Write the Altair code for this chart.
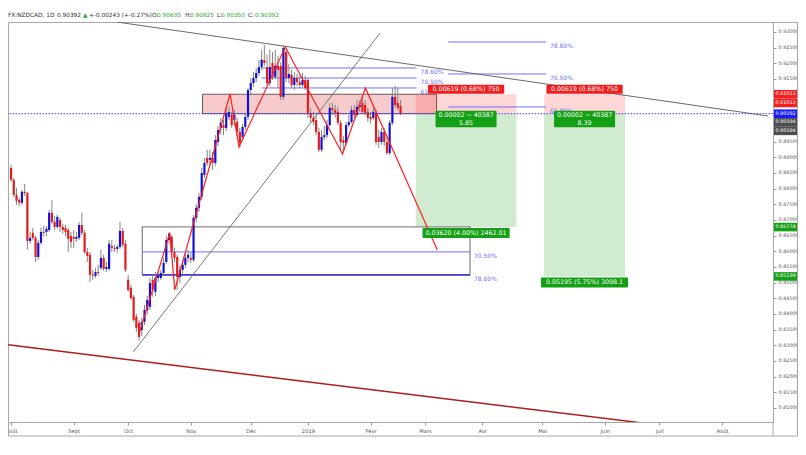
import altair as alt
import pandas as pd

# ---------------- data ----------------
# x axis: bar index (trading day) of the first session of each month, and its label
month_bar = [0, 23, 43, 66, 88, 109, 132, 152, 173, 195, 218, 238, 261]
month_name = ["Août", "Sept", "Oct", "Nov", "Déc", "2019", "Févr", "Mars", "Avr", "Mai", "Juin", "Juil", "Août"]
price_ticks = [0.810, 0.815, 0.820, 0.825, 0.830, 0.835, 0.840, 0.845, 0.850, 0.855, 0.860, 0.865,
               0.870, 0.875, 0.880, 0.885, 0.890, 0.895, 0.900, 0.905, 0.910, 0.915, 0.920, 0.925, 0.930]

opens = [.8866, .8828, .8780, .8764, .8755, .8790, .8786, .8633, .8659, .8643,
         .8582, .8627, .8662, .8662, .8668, .8723, .8694, .8678, .8700, .8678,
         .8675, .8668, .8649, .8646, .8640, .8643, .8684, .8659, .8598, .8589,
         .8525, .8522, .8534, .8547, .8579, .8544, .8544, .8617, .8611, .8608,
         .8614, .8665, .8624, .8509, .8483, .8455, .8391, .8372, .8349, .8375,
         .8413, .8423, .8509, .8471, .8515, .8515, .8531, .8566, .8636, .8646,
         .8598, .8582, .8518, .8541, .8557, .8579, .8579, .8573, .8707, .8739,
         .8774, .8844, .8898, .8892, .8898, .8882, .8949, .8994, .9003, .8994,
         .9029, .9035, .9019, .9013, .8981, .8965, .8997, .9029, .9115, .9137,
         .9153, .9169, .9188, .9211, .9188, .9137, .9201, .9156, .9192, .9192,
         .9093, .9236, .9153, .9163, .9131, .9153, .9140, .9131, .9147, .9147,
         .9042, .9026, .9019, .8981, .8924, .8965, .8971, .9003, .9058, .9051,
         .9045, .9010, .8955, .8946, .9003, .9013, .9051, .9035, .9061, .9074,
         .9067, .9045, .9029, .9026, .9042, .8965, .8949, .8981, .8949, .8914,
         .9010, .9093, .9074, .90635]
highs = [.8876, .8834, .8802, .8770, .8796, .8815, .8790, .8662, .8675, .8649,
         .8636, .8675, .8681, .8681, .8732, .8764, .8713, .8716, .8707, .8688,
         .8684, .8675, .8662, .8668, .8662, .8694, .8723, .8668, .8611, .8598,
         .8541, .8547, .8557, .8605, .8589, .8566, .8636, .8636, .8621, .8621,
         .8694, .8675, .8636, .8525, .8493, .8461, .8401, .8381, .8388, .8429,
         .8458, .8515, .8525, .8534, .8534, .8541, .8579, .8649, .8662, .8652,
         .8611, .8589, .8554, .8573, .8592, .8605, .8598, .8716, .8751, .8786,
         .8866, .8898, .8924, .8924, .8917, .8971, .9000, .9026, .9019, .9058,
         .9064, .9045, .9051, .9026, .8994, .9007, .9042, .9121, .9153, .9172,
         .9185, .9211, .9243, .9259, .9227, .9243, .9236, .9243, .9223, .9204,
         .9259, .9243, .9198, .9179, .9172, .9166, .9160, .9169, .9160, .9153,
         .9058, .9045, .9035, .8994, .8987, .9000, .9019, .9074, .9074, .9067,
         .9061, .9019, .8968, .9013, .9035, .9064, .9067, .9083, .9083, .9093,
         .9083, .9058, .9045, .9058, .9051, .8987, .8994, .8994, .8962, .9019,
         .9121, .9128, .9121, .90825]
lows = [.8821, .8774, .8748, .8745, .8748, .8777, .8605, .8624, .8636, .8566,
        .8573, .8621, .8649, .8649, .8662, .8688, .8668, .8672, .8662, .8656,
        .8649, .8598, .8611, .8611, .8630, .8636, .8652, .8592, .8566, .8502,
        .8509, .8515, .8522, .8541, .8538, .8534, .8538, .8598, .8598, .8595,
        .8608, .8614, .8534, .8471, .8445, .8375, .8343, .8314, .8330, .8365,
        .8397, .8413, .8455, .8458, .8502, .8509, .8522, .8560, .8624, .8589,
        .8566, .8477, .8499, .8528, .8547, .8566, .8563, .8566, .8694, .8726,
        .8764, .8834, .8873, .8876, .8860, .8873, .8936, .8975, .8971, .8984,
        .9019, .8994, .9000, .8968, .8930, .8952, .8987, .9019, .9102, .9125,
        .9140, .9160, .9179, .9192, .9128, .9128, .9147, .9150, .9121, .9083,
        .9083, .9140, .9137, .9121, .9115, .9128, .9121, .9125, .9115, .9026,
        .9013, .9003, .8971, .8917, .8917, .8955, .8962, .8997, .9035, .9026,
        .9003, .8924, .8917, .8940, .8997, .9007, .9026, .9029, .9045, .9038,
        .9035, .9013, .9007, .9019, .8940, .8930, .8940, .8936, .8908, .8908,
        .9003, .9058, .9051, .90350]
closes = [.8828, .8780, .8761, .8755, .8790, .8786, .8633, .8643, .8643, .8582,
          .8627, .8662, .8659, .8672, .8723, .8694, .8678, .8710, .8678, .8668,
          .8662, .8640, .8630, .8640, .8646, .8684, .8659, .8598, .8585, .8525,
          .8522, .8534, .8531, .8579, .8544, .8550, .8624, .8611, .8608, .8614,
          .8665, .8621, .8541, .8477, .8451, .8381, .8356, .8327, .8375, .8413,
          .8445, .8499, .8477, .8515, .8525, .8531, .8563, .8636, .8656, .8598,
          .8579, .8518, .8541, .8557, .8579, .8589, .8573, .8707, .8739, .8774,
          .8850, .8882, .8882, .8898, .8882, .8955, .8987, .9010, .8994, .9042,
          .9045, .9003, .9035, .8981, .8946, .8997, .9029, .9115, .9137, .9153,
          .9169, .9188, .9211, .9201, .9137, .9188, .9156, .9192, .9179, .9093,
          .9249, .9153, .9166, .9131, .9153, .9140, .9131, .9147, .9121, .9042,
          .9026, .9013, .8981, .8924, .8965, .8971, .9003, .9058, .9051, .9042,
          .9010, .8949, .8946, .9003, .9013, .9051, .9035, .9061, .9067, .9045,
          .9042, .9026, .9022, .9045, .8949, .8949, .8981, .8949, .8914, .9010,
          .9093, .9067, .9058, .90392]

# drawings (bar index / price)
zone_bars = [70.3, 156.2]
zone_prices = [0.90394, 0.91013]
tool_start = [148.6, 195.7]
tool_end = [185.5, 225.4]
tool_entry = [0.90394, 0.90394]
tool_stop = [0.91013, 0.91013]
tool_target = [0.86774, 0.85199]
tool_risk_txt = ["0.00619 (0.68%) 750", "0.00619 (0.68%) 750"]
tool_qty_txt = ["0.00002 ~ 40387", "0.00002 ~ 40387"]
tool_rr_txt = ["5.85", "8.39"]
tool_reward_txt = ["0.03620 (4.00%) 2462.01", "0.05195 (5.75%) 3098.1"]

fib_a_bars = [92.0, 148.9]
fib_a_prices = [0.91851, 0.91532, 0.91214]
fib_a_txt = ["78.60%", "70.50%", "61.80%"]
fib_b_bars = [160.5, 196.4]
fib_b_prices = [0.92681, 0.91660, 0.90607]
fib_b_txt = ["78.60%", "70.50%", "61.80%"]
box_bars = [48.2, 168.5]
box_prices = [0.85248, 0.86778]
fib_c_prices = [0.85982, 0.85248]
fib_c_txt = ["70.50%", "78.60%"]

resist_bars = [38.8, 277.9]
resist_prices = [0.93319, 0.90320]
rise_bars = [44.9, 135.5]
rise_prices = [0.82792, 0.92968]
base_bars = [-1.09, 277.9]
base_prices = [0.83015, 0.80029]
zig_bars = [46.7, 58.3, 60.1, 80.4, 83.7, 100.7, 121.7, 130.1, 156.5]
zig_prices = [0.83271, 0.86588, 0.84770, 0.91022, 0.89331, 0.92521, 0.89108, 0.91214, 0.86046]

last_price = 0.90392
tag_prices = [0.91013, 0.90392, 0.86774, 0.85199, 0.91013, 0.90394, 0.90394]
tag_text = ["0.91013", "0.90392", "0.86774", "0.85199", "0.91013", "0.90394", "0.90394"]
tag_color = ["#f21d1d", "#1a1aff", "#16a016", "#16a016", "#f21d1d", "#4d4d4d", "#4d4d4d"]
tag_group = [0, 0, 0, 0, 1, 1, 2]

# ---------------- layout ----------------
W, H = 765, 400
RP = 25  # right strip with price axis
xs = alt.Scale(domain=[0.72, 277.9], nice=False, zero=False)
ys = alt.Scale(domain=[0.80553, 0.93319], nice=False, zero=False)
FONT = "DejaVu Sans"

label_expr = "[" + ",".join("'%s'" % m for m in month_name) + "][indexof([" + ",".join(
    str(v) for v in month_bar) + "], datum.value)]"

# price labels hidden behind the stacked price tags are left out
axis_prices = [v for v in price_ticks if abs(v - last_price) > 0.0075]

x_axis = alt.Axis(values=month_bar, labelExpr=label_expr, title=None, grid=False, domain=False,
                  tickSize=3, tickColor="#9a9a9a", labelColor="#555555", labelFont=FONT,
                  labelFontSize=5.2, labelPadding=3, labelFlush=False, labelOverlap=False)
y_axis = alt.Axis(orient="right", values=axis_prices, format=".5f", title=None, grid=False,
                  domain=False, tickSize=3, tickColor="#9a9a9a", labelColor="#555555",
                  labelFont=FONT, labelFontSize=4.9, labelPadding=2)


def X(f):
    return alt.X(f, type="quantitative", scale=xs, axis=x_axis)


def Y(f):
    return alt.Y(f, type="quantitative", scale=ys, axis=y_axis)


one = pd.DataFrame({"k": [0]})

candles = pd.DataFrame({"b": list(range(len(opens))), "o": opens, "h": highs, "l": lows, "c": closes})
candles["dir"] = ["up" if c >= o else "down" for o, c in zip(opens, closes)]

layers = []

# support zone rectangle
zone = pd.DataFrame({"b1": [zone_bars[0]], "b2": [zone_bars[1]], "p1": [zone_prices[0]], "p2": [zone_prices[1]]})
layers.append(alt.Chart(zone).mark_rect(fill="#f0a0a0", fillOpacity=0.55, stroke="#6e5858",
                                        strokeWidth=1, clip=True)
              .encode(x=X("b1"), x2="b2", y=Y("p1"), y2="p2"))

# position tools
tools = pd.DataFrame({"b1": tool_start, "b2": tool_end, "entry": tool_entry, "stop": tool_stop,
                      "target": tool_target, "risk": tool_risk_txt, "qty": tool_qty_txt,
                      "rr": tool_rr_txt, "reward": tool_reward_txt})
tools["mid"] = (tools["b1"] + tools["b2"]) / 2
layers.append(alt.Chart(tools).mark_rect(fill="#ff3030", fillOpacity=0.2, clip=True)
              .encode(x=X("b1"), x2="b2", y=Y("entry"), y2="stop"))
layers.append(alt.Chart(tools).mark_rect(fill="#2aa52a", fillOpacity=0.22, clip=True)
              .encode(x=X("b1"), x2="b2", y=Y("entry"), y2="target"))

# fib box (lower left)
box = pd.DataFrame({"b1": [box_bars[0]], "b2": [box_bars[1]], "p1": [box_prices[0]], "p2": [box_prices[1]]})
layers.append(alt.Chart(box).mark_rect(fill="white", fillOpacity=0, stroke="#8a8a8a", strokeWidth=1.3,
                                       clip=True)
              .encode(x=X("b1"), x2="b2", y=Y("p1"), y2="p2"))

fib_rows = []
for p in fib_a_prices:
    fib_rows.append({"b1": fib_a_bars[0], "b2": fib_a_bars[1], "p": p})
for p in fib_b_prices:
    fib_rows.append({"b1": fib_b_bars[0], "b2": fib_b_bars[1], "p": p})
for p in fib_c_prices:
    fib_rows.append({"b1": box_bars[0], "b2": box_bars[1], "p": p})
fib = pd.DataFrame(fib_rows)
layers.append(alt.Chart(fib).mark_rule(color="#6f6fff", strokeWidth=1, clip=True)
              .encode(x=X("b1"), x2="b2", y=Y("p")))
layers.append(alt.Chart(pd.DataFrame({"b1": [box_bars[0]], "b2": [box_bars[1]], "p": [fib_c_prices[1]]}))
              .mark_rule(color="#2a2acc", strokeWidth=1.4, clip=True)
              .encode(x=X("b1"), x2="b2", y=Y("p")))


# trend lines
def seg(bs, ps, color, width):
    d = pd.DataFrame({"b": bs, "p": ps})
    return alt.Chart(d).mark_line(color=color, strokeWidth=width, clip=True).encode(x=X("b"), y=Y("p"))


layers.append(seg(resist_bars, resist_prices, "#6a6a6a", 1))
layers.append(seg(rise_bars, rise_prices, "#555555", 0.8))
layers.append(seg(base_bars, base_prices, "#b01c1c", 1.5))

# candles
layers.append(alt.Chart(candles).mark_rule(color="#858585", strokeWidth=1, clip=True)
              .encode(x=X("b"), y=Y("l"), y2="h"))
layers.append(alt.Chart(candles).mark_bar(size=2.2, clip=True)
              .encode(x=X("b"), y=Y("o"), y2="c",
                      color=alt.Color("dir:N", scale=alt.Scale(domain=["up", "down"],
                                                               range=["#1212d6", "#e61c1c"]), legend=None)))

# harmonic zigzag
layers.append(seg(zig_bars, zig_prices, "#ff1f1f", 1.2))

# last price line
layers.append(alt.Chart(pd.DataFrame({"p": [last_price]})).mark_rule(color="#3a3aff", strokeDash=[1.5, 1.5],
                                                                     strokeWidth=1)
              .encode(y=Y("p")))

# fib labels
fib_lbl = pd.DataFrame({"b": [fib_a_bars[1]] * 3 + [fib_b_bars[1]] * 3 + [box_bars[1]] * 2,
                        "p": fib_a_prices + fib_b_prices + fib_c_prices,
                        "t": fib_a_txt + fib_b_txt + fib_c_txt})
layers.append(alt.Chart(fib_lbl).mark_text(align="left", baseline="middle", dx=4, dy=4, font=FONT,
                                           fontSize=6, color="#7070ff")
              .encode(x=X("b"), y=Y("p"), text="t"))

# position tool labels
tools["r1"] = tools["mid"] - 14.0
tools["r2"] = tools["mid"] + 14.0
tools["q1"] = tools["mid"] - 11.2
tools["q2"] = tools["mid"] + 11.2
tools["w1"] = tools["mid"] - 16.0
tools["w2"] = tools["mid"] + 16.0
layers.append(alt.Chart(tools).mark_rect(fill="#f01e1e", yOffset=-9.5, y2Offset=-0.5, cornerRadius=1)
              .encode(x=X("r1"), x2="r2", y=Y("stop"), y2="stop"))
layers.append(alt.Chart(tools).mark_text(color="white", font=FONT, fontSize=6.3, baseline="middle", dy=-5)
              .encode(x=X("mid"), y=Y("stop"), text="risk"))
layers.append(alt.Chart(tools).mark_rect(fill="#14a014", yOffset=-3, y2Offset=13.5, cornerRadius=1)
              .encode(x=X("q1"), x2="q2", y=Y("entry"), y2="entry"))
layers.append(alt.Chart(tools).mark_text(color="white", font=FONT, fontSize=6.3, baseline="middle", dy=1.8)
              .encode(x=X("mid"), y=Y("entry"), text="qty"))
layers.append(alt.Chart(tools).mark_text(color="white", font=FONT, fontSize=6.3, baseline="middle", dy=9.5)
              .encode(x=X("mid"), y=Y("entry"), text="rr"))
layers.append(alt.Chart(tools).mark_rect(fill="#14a014", yOffset=1, y2Offset=11, cornerRadius=1)
              .encode(x=X("w1"), x2="w2", y=Y("target"), y2="target"))
layers.append(alt.Chart(tools).mark_text(color="white", font=FONT, fontSize=6.3, baseline="middle", dy=6)
              .encode(x=X("mid"), y=Y("target"), text="reward"))

# price tags on the right axis
tags = pd.DataFrame({"p": tag_prices, "t": tag_text, "col": tag_color, "g": tag_group})
for g, off in [(0, 0), (1, 8.7), (2, 17.2)]:
    sub = tags[tags["g"] == g]
    layers.append(alt.Chart(sub).mark_rect(yOffset=off - 4.3, y2Offset=off + 4.3)
                  .encode(x=alt.value(W + 1), x2=alt.value(W + RP - 1), y=Y("p"), y2="p",
                          color=alt.Color("col:N", scale=None)))
    layers.append(alt.Chart(sub).mark_text(color="white", font=FONT, fontSize=4.9, baseline="middle",
                                           dy=off)
                  .encode(x=alt.value(W + RP / 2), y=Y("p"), text="t"))

# header
header = [("FX:NZDCAD, 1D", 0, "#333333"), ("0.90392", 49, "#333333"), ("▲", 75, "#2ea52e"),
          ("+-0.00243 (+-0.27%)", 81, "#333333"), ("O:", 144, "#333333"), ("0.90635", 149, "#3aa83a"),
          ("H:", 177, "#333333"), ("0.90825", 182, "#3aa83a"), ("L:", 209, "#333333"),
          ("0.90350", 213, "#3aa83a"), ("C:", 240, "#333333"), ("0.90392", 247, "#3aa83a")]
for txt, px, col in header:
    layers.append(alt.Chart(one).mark_text(text=txt, align="left", baseline="middle", font=FONT,
                                           fontSize=5.8, color=col)
                  .encode(x=alt.value(px), y=alt.value(-7)))

# outer frame of the chart widget
FR = "#a8a8a8"
R = W + RP - 0.5
layers.append(alt.Chart(one).mark_rule(color=FR).encode(x=alt.value(0), x2=alt.value(R), y=alt.value(414)))
layers.append(alt.Chart(one).mark_rule(color=FR).encode(x=alt.value(W), x2=alt.value(R), y=alt.value(0.5)))
layers.append(alt.Chart(one).mark_rule(color=FR).encode(x=alt.value(R), y=alt.value(0), y2=alt.value(414)))
layers.append(alt.Chart(one).mark_rule(color=FR).encode(x=alt.value(W), y=alt.value(400), y2=alt.value(414)))
layers.append(alt.Chart(one).mark_rule(color=FR).encode(x=alt.value(0.5), y=alt.value(400), y2=alt.value(414)))

chart = alt.layer(*layers).properties(
    width=W, height=H,
    autosize=alt.AutoSizeParams(type="none"),
    padding={"left": 0, "top": 14, "right": RP, "bottom": 15},
).configure_view(stroke=FR, strokeWidth=1)

chart.save("out.html", embed_options={"renderer": "svg", "actions": False})
